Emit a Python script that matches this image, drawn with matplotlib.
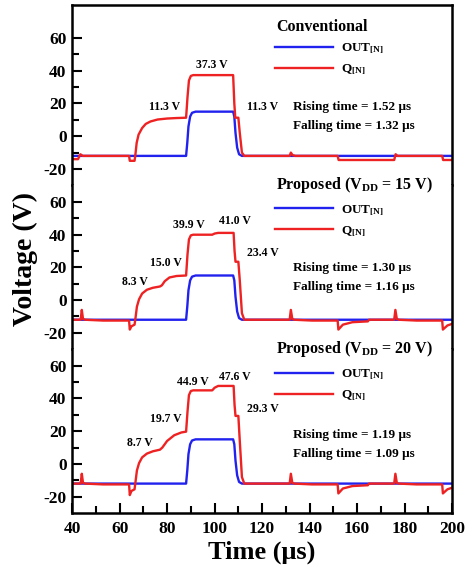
import matplotlib
matplotlib.use('Agg')
import matplotlib.pyplot as plt

plt.rcParams['font.family'] = ['Liberation Serif', 'DejaVu Serif']
plt.rcParams['font.weight'] = 'bold'
plt.rcParams['mathtext.default'] = 'regular'
plt.rcParams['axes.unicode_minus'] = False

# OUT[N] output (same in all three panels)
out_t = [40, 88, 88.5, 89, 89.7, 90.5, 92, 107.8, 108.3, 108.8, 109.5, 110.3, 111.5, 200]
out_v = [-12, -12, -4, 6, 12, 14.3, 15, 15, 12, 2, -7, -11, -12, -12]

# Q[N] conventional
q1_t = [40, 42.5, 43.5, 44.5, 64, 64.3, 66.3, 66.6, 67.2, 68, 69.5, 71, 73, 76, 80, 84, 88,
        88.6, 89.2, 90, 91, 107.8, 108.3, 108.7, 110, 110.6, 111.5, 112.5,
        131.6, 132.1, 132.8, 134, 151.8, 152.2, 175.6, 176.2, 177, 195.8, 196.2, 200]
q1_v = [-14, -14, -11, -12, -12, -15, -15, -12, -4, 1, 5, 7.5, 9, 10.2, 10.8, 11.1, 11.3,
        24, 34, 36.8, 37.3, 37.3, 20, 11.3, 11.3, 2, -10, -12,
        -12, -10, -11.5, -12, -12, -14.5, -14.5, -11, -12, -12, -14.5, -14.5]

# Q[N] proposed, VDD = 15 V
q2_t = [40, 43.6, 44.1, 44.6, 45.5, 53, 64, 64.3, 65, 66.3, 66.7, 67.3, 68.2, 69.5, 71.5, 74, 77,
        77.8, 79, 81, 84, 88, 88.6, 89.2, 90, 91, 99, 100, 101.5, 108, 108.4, 108.8, 110, 110.6,
        111.5, 112.5, 131.6, 132.1, 132.7, 133.5, 141, 151.8, 152.1, 154, 158, 164.5, 165,
        175.6, 176.1, 176.7, 177.5, 185, 195.8, 196.1, 198, 200]
q2_v = [-12, -12, -6, -11.5, -12, -12.5, -12.5, -18, -16, -15, -11, -4, 0.5, 4, 6.3, 7.5, 8.3,
        9, 11.5, 13.8, 14.7, 15, 28, 37, 39.5, 39.9, 39.9, 40.6, 41, 41, 30, 23.4, 23.4, 12,
        -8, -12, -12, -6, -11.5, -12, -12.5, -12.5, -18, -15, -13.5, -13, -12,
        -12, -6, -11.5, -12, -12.5, -12.5, -18, -15.5, -14.5]

# Q[N] proposed, VDD = 20 V
q3_t = [40, 43.6, 44.1, 44.6, 45.5, 53, 64, 64.3, 65, 66.3, 66.7, 67.3, 68.2, 69.5, 71.5, 74, 77,
        78, 80, 83, 86, 88, 88.6, 89.2, 90, 91, 99, 100, 101.5, 108, 108.4, 108.8, 110, 110.6,
        111.5, 112.5, 131.6, 132.1, 132.7, 133.5, 141, 151.8, 152.1, 154, 158, 164.5, 165,
        175.6, 176.1, 176.7, 177.5, 185, 195.8, 196.1, 198, 200]
q3_v = [-12, -12, -6, -11.5, -12, -12.5, -12.5, -19, -16.5, -15.5, -11, -4, 0.5, 4, 6.3, 7.7, 8.7,
        10, 14, 17.5, 19.2, 19.7, 32, 42, 44.5, 44.9, 44.9, 46.5, 47.6, 47.6, 36, 29.3, 29.3, 14,
        -8, -12, -12, -6, -11.5, -12, -12.5, -12.5, -18, -15, -13.5, -13, -12,
        -12, -6, -11.5, -12, -12.5, -12.5, -18, -15.5, -14.5]

titles = ['Conventional', 'Proposed (V$_{DD}$ = 15 V)', 'Proposed (V$_{DD}$ = 20 V)']
q_series = [(q1_t, q1_v), (q2_t, q2_v), (q3_t, q3_v)]
rise_fall = [('1.52', '1.32'), ('1.30', '1.16'), ('1.19', '1.09')]
# value labels: (text, x, y)
value_labels = [
    [('37.3 V', 99, 43.4), ('11.3 V', 79, 17.8), ('11.3 V', 120, 17.8)],
    [('39.9 V', 89.3, 45.6), ('41.0 V', 108.5, 48.0), ('15.0 V', 79.6, 22.6),
     ('8.3 V', 66.3, 11), ('23.4 V', 120.2, 28.7)],
    [('44.9 V', 90.7, 49.9), ('47.6 V', 108.5, 52.9), ('19.7 V', 79.4, 27.7),
     ('8.7 V', 68.6, 12.5), ('29.3 V', 120.2, 33.7)],
]
ylims = [(-30, 80), (-30, 70), (-30, 70)]
# vertical placement in axes fraction: title, legend centre; rising/falling in data
title_y = [0.878, 1.005, 1.0]
leg_y = [0.697, 0.782, 0.78]
rise_y = [17.8, 19.6, 17.6]
fall_y = [6.2, 8.0, 5.9]

blue = '#2222ee'
red = '#ee2222'

fig = plt.figure(figsize=(4.71, 5.72), dpi=100)
gs = fig.add_gridspec(3, 1, height_ratios=[110, 100, 100], hspace=0,
                      left=0.153, right=0.96, top=0.991, bottom=0.103)
axes = [fig.add_subplot(gs[i]) for i in range(3)]

for i, ax in enumerate(axes):
    l1, = ax.plot(out_t, out_v, color=blue, lw=1.7, label='OUT$_{[N]}$')
    l2, = ax.plot(q_series[i][0], q_series[i][1], color=red, lw=1.7, label='Q$_{[N]}$')
    ax.set_xlim(40, 200)
    ax.set_ylim(*ylims[i])
    ax.set_yticks([-20, 0, 20, 40, 60])
    ax.set_yticks([-10, 10, 30, 50], minor=True)
    ax.set_xticks(range(40, 201, 20))
    ax.set_xticks(range(50, 200, 20), minor=True)
    ax.tick_params(which='both', direction='in', width=1.5, labelsize=12.5)
    ax.tick_params(which='major', length=7)
    ax.tick_params(which='minor', length=5)
    ax.tick_params(axis='y', pad=4)
    ax.tick_params(axis='x', pad=6)
    for s in ax.spines.values():
        s.set_linewidth(1.8)
    if i > 0:
        ax.spines['top'].set_visible(False)
    if i < 2:
        ax.spines['bottom'].set_visible(False)
        ax.tick_params(axis='x', which='both', bottom=False, labelbottom=False)

    ax.text(0.537, title_y[i], titles[i], transform=ax.transAxes, ha='left', va='center',
            fontsize=11.5, fontweight='bold')
    leg = ax.legend(handles=[l1, l2], loc='center left', bbox_to_anchor=(0.534, leg_y[i]),
                    frameon=False, fontsize=9.5, handlelength=4.4, handletextpad=0.6,
                    borderpad=0, borderaxespad=0, labelspacing=0.5)
    ax.text(133, rise_y[i], 'Rising time = %s \u03bcs' % rise_fall[i][0],
            ha='left', va='center', fontsize=9.5, fontweight='bold')
    ax.text(133, fall_y[i], 'Falling time = %s \u03bcs' % rise_fall[i][1],
            ha='left', va='center', fontsize=9.5, fontweight='bold')
    for txt, x, y in value_labels[i]:
        ax.text(x, y, txt, ha='center', va='center', fontsize=8.5, fontweight='bold')

fig.text(0.053, 0.547, 'Voltage (V)', rotation=90, ha='center', va='center',
         fontsize=20, fontweight='bold')
fig.text(0.556, 0.035, 'Time (\u03bcs)', ha='center', va='center',
         fontsize=19, fontweight='bold')

fig.savefig('out.png', dpi=100)
